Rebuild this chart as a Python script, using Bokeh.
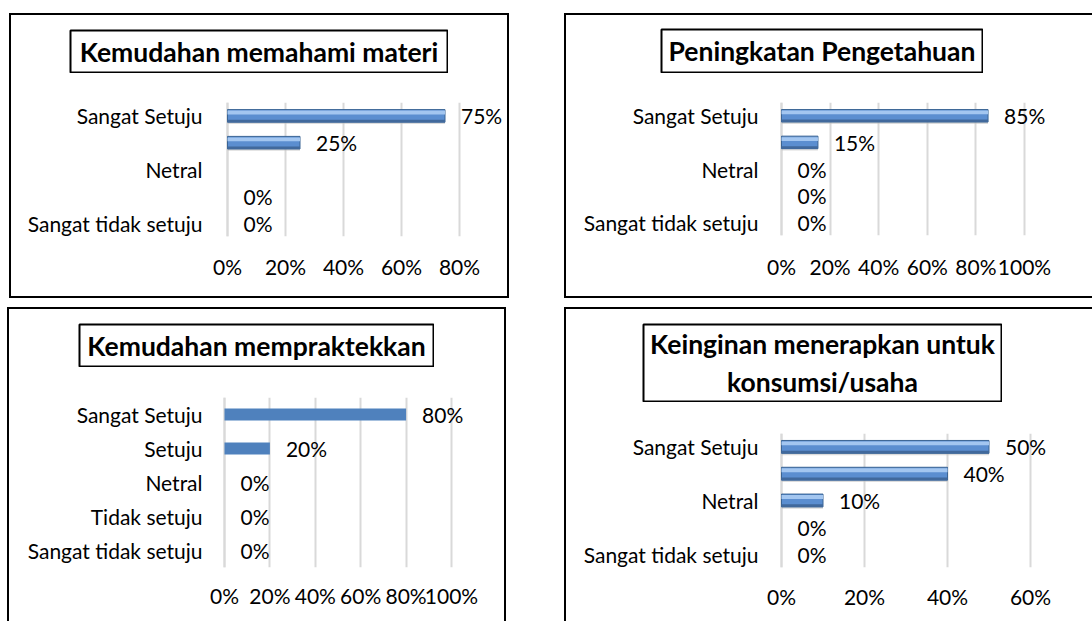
from bokeh.plotting import figure
from bokeh.models import (ColumnDataSource, Range1d, FixedTicker,
                          NumeralTickFormatter, LabelSet, Spacer, Span)
from bokeh.core.properties import value
from bokeh.transform import dodge
from bokeh.layouts import column, row
from bokeh.embed import file_html
from bokeh.resources import INLINE
import math

# ---------------- data ----------------
categories = ["Sangat tidak setuju", "Tidak setuju", "Netral", "Setuju", "Sangat Setuju"]

titles = [
    "Kemudahan memahami materi",
    "Peningkatan Pengetahuan",
    "Kemudahan mempraktekkan",
    "Keinginan menerapkan untuk\nkonsumsi/usaha",
]
# values in the same order as categories (bottom to top)
values_p1 = [0.00, 0.00, float("nan"), 0.25, 0.75]
values_p2 = [0.00, 0.00, 0.00, 0.15, 0.85]
values_p3 = [0.00, 0.00, 0.00, 0.20, 0.80]
values_p4 = [0.00, 0.00, 0.10, 0.40, 0.50]

ticks_p1 = [0, 0.2, 0.4, 0.6, 0.8]
ticks_p2 = [0, 0.2, 0.4, 0.6, 0.8, 1.0]
ticks_p3 = [0, 0.2, 0.4, 0.6, 0.8, 1.0]
ticks_p4 = [0, 0.2, 0.4, 0.6]

# category labels that the original chart leaves out
hidden_p1 = ["Setuju", "Tidak setuju"]
hidden_p2 = ["Setuju", "Tidak setuju"]
hidden_p3 = []
hidden_p4 = ["Setuju", "Tidak setuju"]

# ---------------- style ----------------
FONT = "Lato"
AX_SIZE = "21px"
TITLE_SIZE = "26.5px"
GRID_COLOR = "#D9D9D9"
OUTLINE = {"outline": "2px solid black", "outline-offset": "4px"}


def title_block(text, area_w, area_h, box):
    bl, bt, bw, bh = box
    t = figure(width=bw, height=bh,
               min_border_left=1, min_border_top=1,
               min_border_right=1, min_border_bottom=1,
               x_range=Range1d(0, 1), y_range=Range1d(0, 1),
               x_axis_location=None, y_axis_location=None,
               output_backend="svg", toolbar_location=None,
               background_fill_color="white", border_fill_color="white")
    t.grid.visible = False
    t.outline_line_color = "black"
    t.outline_line_width = 2
    t.text(x=[0.5], y=[0.5], text=[text], text_align="center", text_baseline="middle",
           text_font=value(FONT), text_font_style="bold", text_font_size=TITLE_SIZE,
           text_color="black", text_line_height=1.18)
    inner = column(Spacer(width=bw, height=bt), t,
                   Spacer(width=bw, height=area_h - bt - bh), spacing=0)
    return row(Spacer(width=bl, height=area_h), inner,
               Spacer(width=area_w - bl - bw, height=area_h), spacing=0)


def chart_fig(values, ticks, hidden, width, height, frame, px_per_unit, flat, bar_h,
              ystandoff, xstandoff):
    fl, ft, fw, fh = frame
    # start the range 2px left of 0 so that the 0% line is fully visible
    pad = 2
    p = figure(width=width, height=height,
               min_border_left=fl - pad, min_border_top=ft,
               min_border_right=width - fl - fw, min_border_bottom=height - ft - fh,
               x_range=Range1d(-pad / px_per_unit, fw / px_per_unit),
               y_range=Range1d(-0.5, len(categories) - 0.5),
               output_backend="svg", toolbar_location=None,
               background_fill_color="white", border_fill_color="white")
    p.outline_line_color = None
    p.ygrid.visible = False
    p.xgrid.ticker = FixedTicker(ticks=ticks)
    p.xgrid.grid_line_color = GRID_COLOR
    p.xgrid.grid_line_width = 2
    # vertical (value) axis line at 0%, drawn like the grid lines
    p.add_layout(Span(location=ticks[0], dimension="height",
                      line_color=GRID_COLOR, line_width=2, level="underlay"))

    xa = p.xaxis[0]
    xa.ticker = FixedTicker(ticks=ticks)
    xa.formatter = NumeralTickFormatter(format="0%")
    xa.axis_line_color = None
    xa.major_tick_line_color = None
    xa.minor_tick_line_color = None
    xa.major_tick_out = 0
    xa.major_tick_in = 0
    xa.major_label_standoff = xstandoff
    xa.major_label_text_font = FONT
    xa.major_label_text_font_size = AX_SIZE
    xa.major_label_text_color = "black"

    ypos = list(range(len(categories)))
    ya = p.yaxis[0]
    ya.ticker = FixedTicker(ticks=ypos)
    ya.major_label_overrides = {i: ("" if c in hidden else c)
                                for i, c in zip(ypos, categories)}
    ya.axis_line_color = None
    ya.major_tick_line_color = None
    ya.minor_tick_line_color = None
    ya.major_tick_out = 0
    ya.major_tick_in = 0
    ya.major_label_standoff = ystandoff - pad
    ya.major_label_text_font = FONT
    ya.major_label_text_font_size = AX_SIZE
    ya.major_label_text_color = "black"

    # edge only on bars that have a length (no stray stroke at 0%)
    edge_alpha = [1.0 if (not math.isnan(v) and v > 0) else 0.0 for v in values]
    src = ColumnDataSource(dict(y=ypos, val=values, ea=edge_alpha))
    if flat:
        p.hbar(y="y", right="val", left=0, height=bar_h, source=src,
               fill_color="#4F81BD", line_color=None)
    else:
        p.hbar(y=dodge("y", -bar_h * 0.5 - 0.035), right="val", left=0,
               height=0.07, source=src, fill_color="#BFBFBF", fill_alpha=0.55,
               line_color=None)
        p.hbar(y="y", right="val", left=0, height=bar_h, source=src,
               fill_color="#5B8ED0", line_color="#3A6494", line_width=1,
               line_alpha="ea")
        p.hbar(y=dodge("y", -bar_h * 0.4), right="val", left=0,
               height=bar_h * 0.2, source=src, fill_color="#41699C", line_color=None)
        p.hbar(y=dodge("y", bar_h * 0.27), right="val", left=0,
               height=bar_h * 0.3, source=src, fill_color="#A3C6F0", line_color=None)

    lab_y = [y for y, v in zip(ypos, values) if not math.isnan(v)]
    lab_v = [v for v in values if not math.isnan(v)]
    lsrc = ColumnDataSource(dict(y=lab_y, val=lab_v,
                                 txt=["%d%%" % round(v * 100) for v in lab_v]))
    p.add_layout(LabelSet(x="val", y="y", text="txt", source=lsrc, x_offset=16,
                          text_baseline="middle", text_align="left",
                          text_font=value(FONT), text_font_size=AX_SIZE,
                          text_color="black"))
    return p


# panel 1 (top left)
t1 = title_block(titles[0], 488, 65, (54, 10, 379, 44))
f1 = chart_fig(values_p1, ticks_p1, hidden_p1, 488, 208, (212, 18, 275, 134),
               290, False, 0.47, 25, 17)
c1 = column(t1, f1, spacing=0, margin=(19, 0, 0, 15), styles=OUTLINE)

# panel 2 (top right)
t2 = title_block(titles[1], 518, 65, (90, 9, 323, 45))
f2 = chart_fig(values_p2, ticks_p2, hidden_p2, 518, 208, (211, 18, 304, 133),
               243, False, 0.47, 23, 18)
c2 = column(t2, f2, spacing=0, margin=(19, 0, 0, 67), styles=OUTLINE)

# panel 3 (bottom left)
t3 = title_block(titles[2], 487, 65, (65, 10, 356, 44))
f3 = chart_fig(values_p3, ticks_p3, hidden_p3, 487, 239, (211, 19, 273, 170),
               227, True, 0.35, 22, 15)
c3 = column(t3, f3, spacing=0, margin=(21, 0, 0, 13), styles=OUTLINE)

# panel 4 (bottom right)
t4 = title_block(titles[3], 518, 100, (72, 10, 360, 79))
f4 = chart_fig(values_p4, ticks_p4, hidden_p4, 518, 204, (211, 20, 304, 134),
               415, False, 0.48, 23, 16)
c4 = column(t4, f4, spacing=0, margin=(21, 0, 0, 70), styles=OUTLINE)

layout = column(row(c1, c2, spacing=0), row(c3, c4, spacing=0), spacing=0)
open("out.html", "w").write(file_html(layout, INLINE))
